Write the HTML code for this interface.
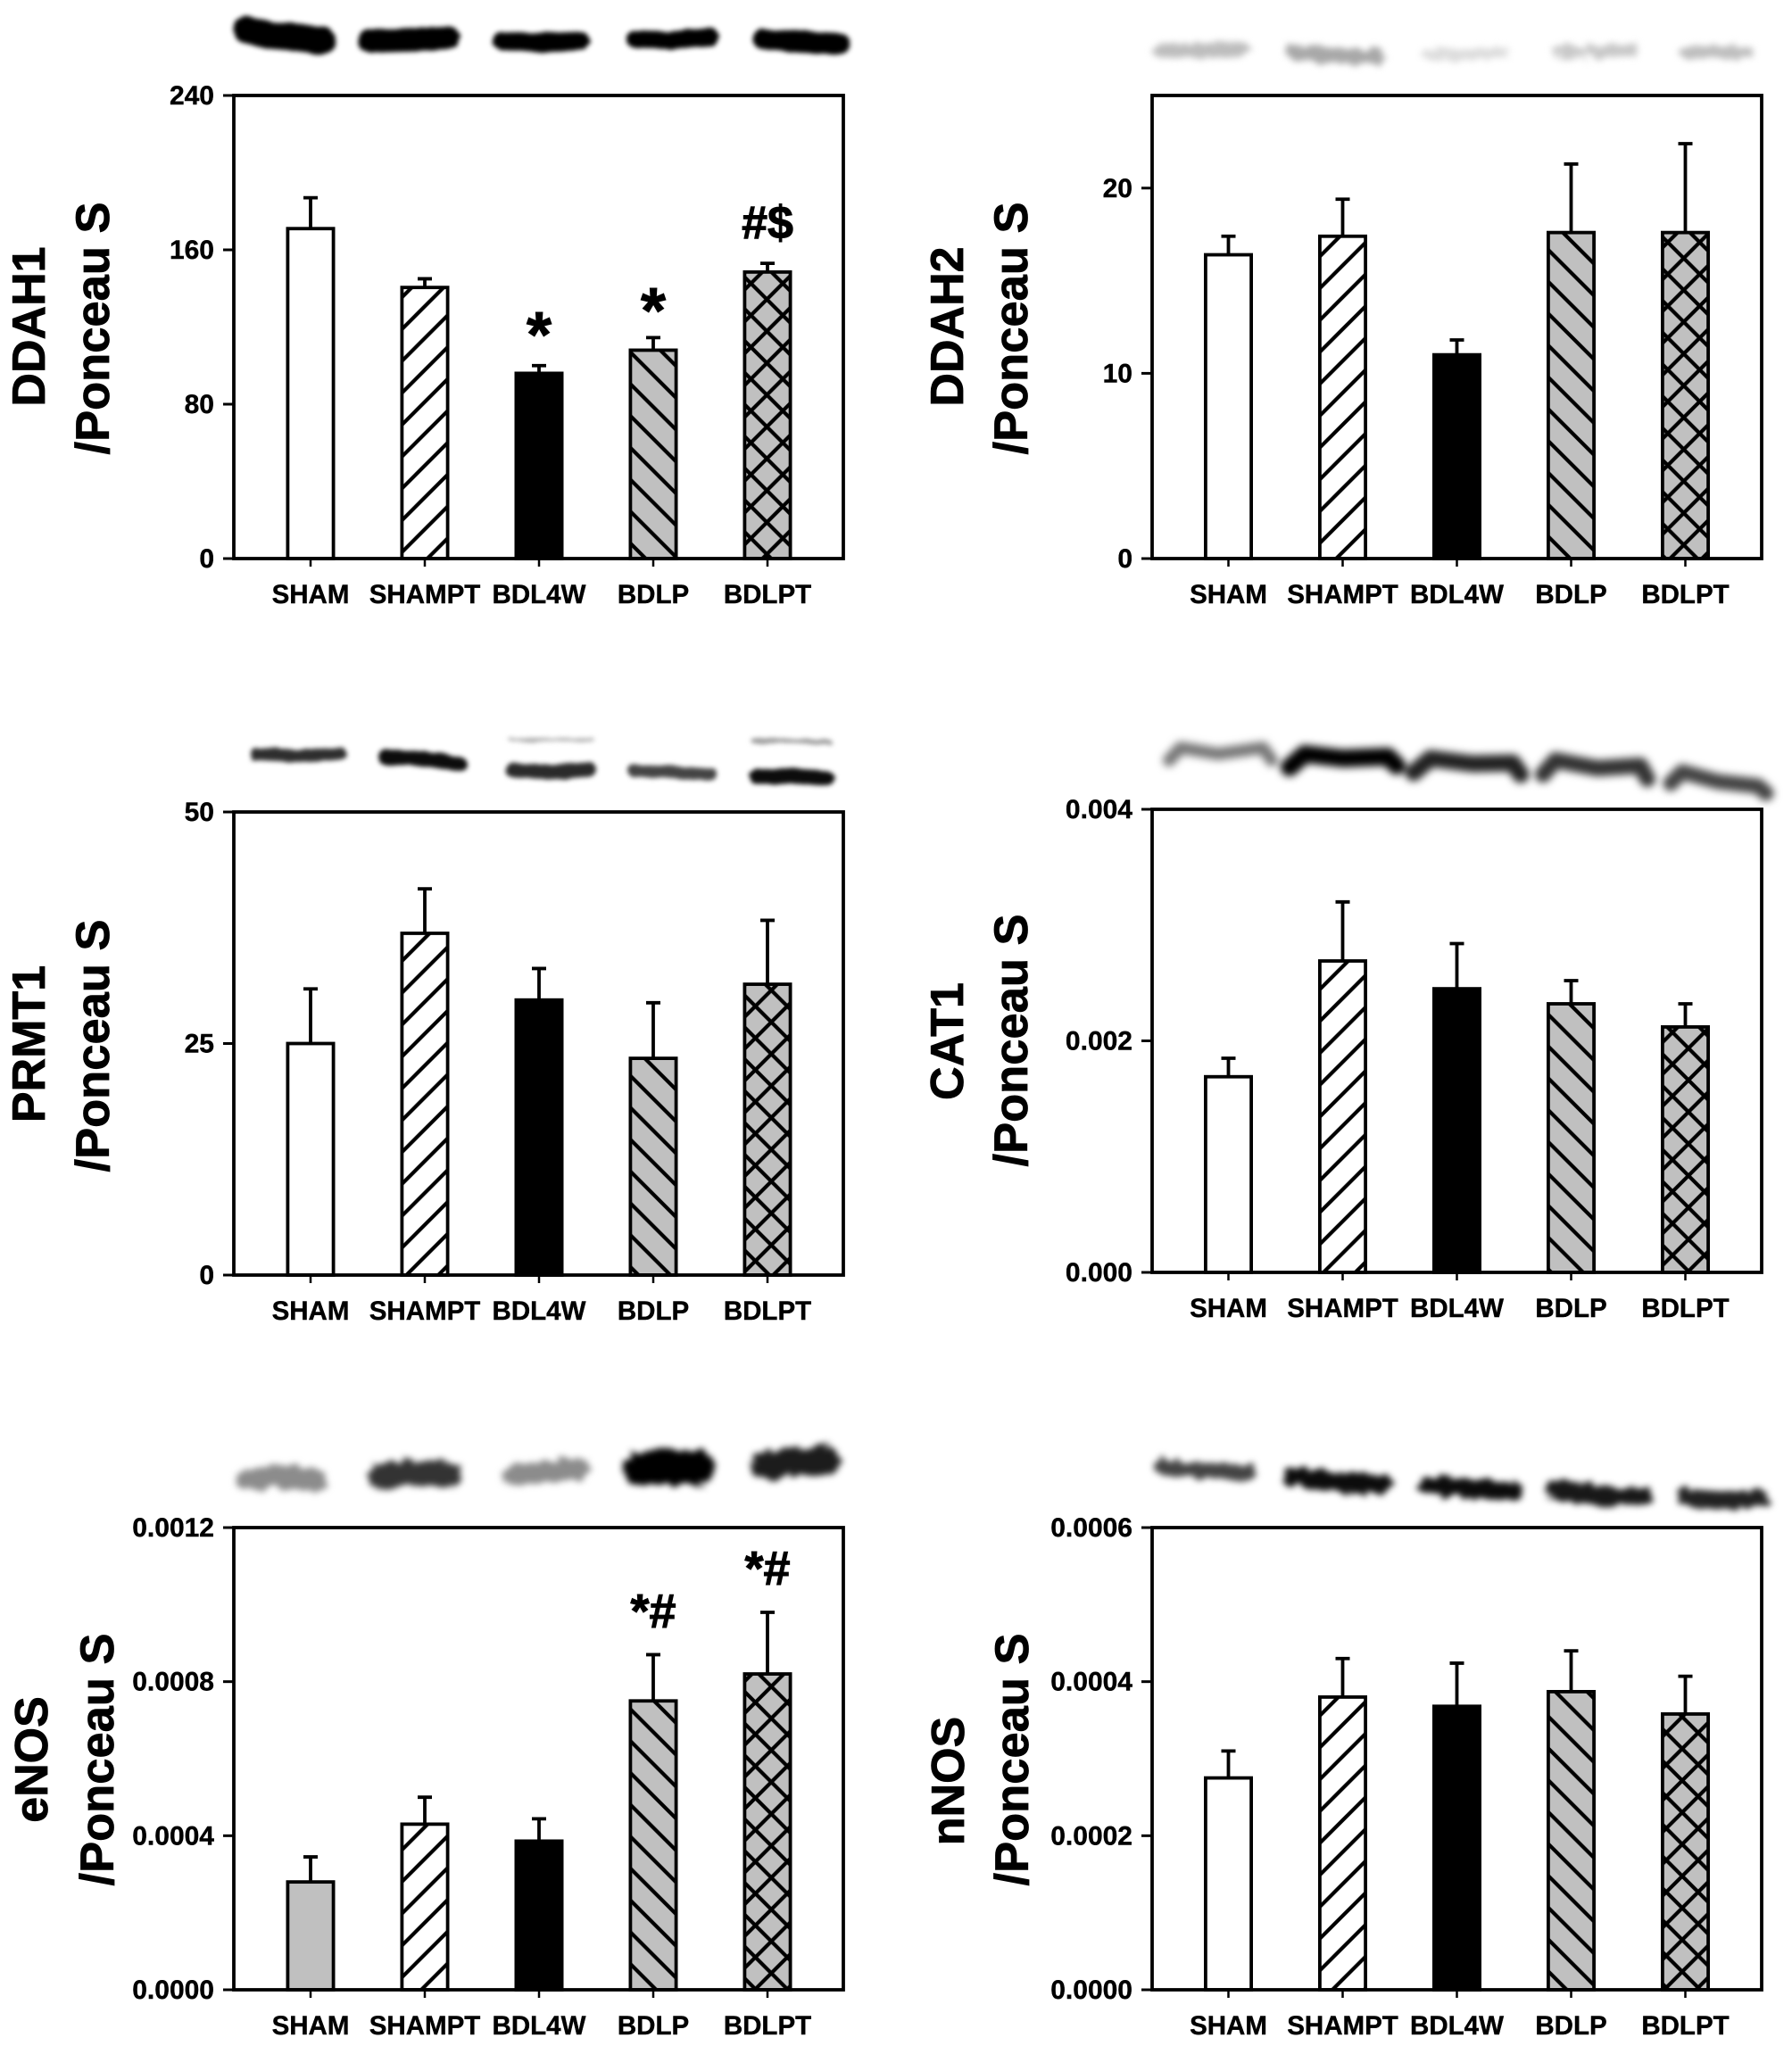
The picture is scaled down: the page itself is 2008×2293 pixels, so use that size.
<!DOCTYPE html>
<html lang="en">
<head>
<meta charset="utf-8">
<title>Protein expression bar charts</title>
<style>
html,body{margin:0;padding:0;background:#fff}
svg{display:block}
text{font-family:"Liberation Sans",Arial,sans-serif;font-weight:bold;fill:#000}
</style>
</head>
<body>
<svg id="figure" xmlns="http://www.w3.org/2000/svg" width="2008" height="2293" viewBox="0 0 2008 2293">
<defs>
<filter id="blot-sharp" filterUnits="userSpaceOnUse" x="0" y="0" width="2008" height="2293" color-interpolation-filters="sRGB">
  <feTurbulence type="fractalNoise" baseFrequency="0.05 0.1" numOctaves="2" seed="4" result="n"/>
  <feDisplacementMap in="SourceGraphic" in2="n" scale="5" xChannelSelector="R" yChannelSelector="G" result="d"/>
  <feGaussianBlur in="d" stdDeviation="2.6"/>
</filter>
<filter id="blot-fuzzy" filterUnits="userSpaceOnUse" x="0" y="0" width="2008" height="2293" color-interpolation-filters="sRGB">
  <feTurbulence type="fractalNoise" baseFrequency="0.08 0.14" numOctaves="2" seed="9" result="n"/>
  <feDisplacementMap in="SourceGraphic" in2="n" scale="14" xChannelSelector="R" yChannelSelector="G" result="d"/>
  <feGaussianBlur in="d" stdDeviation="3.6"/>
</filter>
<filter id="blot-soft" filterUnits="userSpaceOnUse" x="0" y="0" width="2008" height="2293" color-interpolation-filters="sRGB">
  <feGaussianBlur stdDeviation="4.6"/>
</filter>
</defs>
</svg>
<script>
var categories = ['SHAM', 'SHAMPT', 'BDL4W', 'BDLP', 'BDLPT'];

var ddah1Means = [171, 140.5, 96, 108, 148.5];
var ddah1Upper = [187, 145, 100, 114.5, 153];
var ddah1Ticks = ['0', '80', '160', '240'];
var ddah1TickValues = [0, 80, 160, 240];
var ddah1Marks = ['', '', '*', '*', '#$'];

var ddah2Means = [16.4, 17.4, 11, 17.6, 17.6];
var ddah2Upper = [17.4, 19.4, 11.8, 21.3, 22.4];
var ddah2Ticks = ['0', '10', '20'];
var ddah2TickValues = [0, 10, 20];
var ddah2Max = 25;

var prmt1Means = [25, 36.9, 29.7, 23.4, 31.4];
var prmt1Upper = [30.9, 41.7, 33.1, 29.4, 38.3];
var prmt1Ticks = ['0', '25', '50'];
var prmt1TickValues = [0, 25, 50];

var cat1Means = [0.00169, 0.00269, 0.00245, 0.00232, 0.00212];
var cat1Upper = [0.00185, 0.0032, 0.00284, 0.00252, 0.00232];
var cat1Ticks = ['0.000', '0.002', '0.004'];
var cat1TickValues = [0, 0.002, 0.004];

var enosMeans = [0.00028, 0.00043, 0.000386, 0.00075, 0.00082];
var enosUpper = [0.000345, 0.0005, 0.000444, 0.00087, 0.00098];
var enosTicks = ['0.0000', '0.0004', '0.0008', '0.0012'];
var enosTickValues = [0, 0.0004, 0.0008, 0.0012];
var enosMarks = ['', '', '', '*#', '*#'];

var nnosMeans = [0.000275, 0.00038, 0.000368, 0.000387, 0.000358];
var nnosUpper = [0.00031, 0.00043, 0.000424, 0.00044, 0.000407];
var nnosTicks = ['0.0000', '0.0002', '0.0004', '0.0006'];
var nnosTickValues = [0, 0.0002, 0.0004, 0.0006];

var svg = document.getElementById('figure');
var NS = 'http://www.w3.org/2000/svg';
var defs = svg.querySelector('defs');

function make(tag, attrs, parent) {
  var el = document.createElementNS(NS, tag);
  for (var k in attrs) { el.setAttribute(k, attrs[k]); }
  (parent || svg).appendChild(el);
  return el;
}

var panels = [
  { key: 'ddah1', title: 'DDAH1', means: ddah1Means, upper: ddah1Upper, ticks: ddah1Ticks, tickValues: ddah1TickValues, max: 240, marks: ddah1Marks,
    left: 262, center0: 348, top: 107, bottom: 626, titleX: 50, subX: 122, titleY: 366, subY: 368,
    fwd: [500, 355], back: [708, 432], cross: [859.3, 478.3], firstFill: '#ffffff', markY: [0, 0, 400, 373, 267], markSize: [0, 0, 72, 72, 52] },
  { key: 'ddah2', title: 'DDAH2', means: ddah2Means, upper: ddah2Upper, ticks: ddah2Ticks, tickValues: ddah2TickValues, max: ddah2Max, marks: null,
    left: 1291, center0: 1376.5, top: 107, bottom: 626, titleX: 1079, subX: 1151, titleY: 366, subY: 368,
    fwd: [1528.3, 595], back: [1736.7, 531.7], cross: [1886.7, 539.3], firstFill: '#ffffff' },
  { key: 'prmt1', title: 'PRMT1', means: prmt1Means, upper: prmt1Upper, ticks: prmt1Ticks, tickValues: prmt1TickValues, max: 50, marks: null,
    left: 262, center0: 348, top: 910, bottom: 1429, titleX: 50, subX: 122, titleY: 1170, subY: 1172,
    fwd: [500, 1313], back: [708.3, 1314.7], cross: [864.3, 1359.7], firstFill: '#ffffff' },
  { key: 'cat1', title: 'CAT1', means: cat1Means, upper: cat1Upper, ticks: cat1Ticks, tickValues: cat1TickValues, max: 0.004, marks: null,
    left: 1291, center0: 1376.5, top: 907, bottom: 1426, titleX: 1079, subX: 1151, titleY: 1167, subY: 1166,
    fwd: [1483, 1426], back: [1774, 1426], cross: [1892, 1389], firstFill: '#ffffff' },
  { key: 'enos', title: 'eNOS', means: enosMeans, upper: enosUpper, ticks: enosTicks, tickValues: enosTickValues, max: 0.0012, marks: enosMarks,
    left: 262, center0: 348, top: 1712, bottom: 2230, titleX: 53, subX: 127, titleY: 1972, subY: 1972,
    fwd: [500, 2130.7], back: [708.3, 2167.3], cross: [864.3, 2175.7], firstFill: '#c0c0c0', markY: [0, 0, 0, 1824, 1776], markSize: [0, 0, 0, 54, 54] },
  { key: 'nnos', title: 'nNOS', means: nnosMeans, upper: nnosUpper, ticks: nnosTicks, tickValues: nnosTickValues, max: 0.0006, marks: null,
    left: 1291, center0: 1376.5, top: 1712, bottom: 2230, titleX: 1080, subX: 1152, titleY: 1996, subY: 1972,
    fwd: [1528.3, 2159], back: [1736, 2139], cross: [1885, 2174], firstFill: '#ffffff' }
];

var HATCH = 35.7;
var FWD_LINES = 'M-9 9L9 -9M-9 ' + (HATCH + 9) + 'L' + (HATCH + 9) + ' -9M' + (HATCH - 9) + ' ' + (HATCH + 9) + 'L' + (HATCH + 9) + ' ' + (HATCH - 9);
var BACK_LINES = 'M-9 ' + (HATCH - 9) + 'L9 ' + (HATCH + 9) + 'M-9 -9L' + (HATCH + 9) + ' ' + (HATCH + 9) + 'M' + (HATCH - 9) + ' -9L' + (HATCH + 9) + ' 9';

function addPattern(id, anchor, bg, lines) {
  var pat = make('pattern', { id: id, patternUnits: 'userSpaceOnUse', width: HATCH, height: HATCH, patternTransform: 'translate(' + anchor[0] + ' ' + anchor[1] + ')' }, defs);
  make('rect', { width: HATCH, height: HATCH, fill: bg }, pat);
  make('path', { d: lines, stroke: '#000', 'stroke-width': 4.2, fill: 'none' }, pat);
}

function drawPanel(p) {
  addPattern(p.key + '-fwd', p.fwd, '#fff', FWD_LINES);
  addPattern(p.key + '-back', p.back, '#c0c0c0', BACK_LINES);
  addPattern(p.key + '-cross', p.cross, '#c0c0c0', FWD_LINES + BACK_LINES);

  var width = 683;
  var g = make('g', {});
  
  

  function yScale(v) { return p.bottom - (v / p.max) * (p.bottom - p.top); }
  function xScale(i) { return p.center0 + i * 128; }

  var fills = [p.firstFill, 'url(#' + p.key + '-fwd)', '#000000', 'url(#' + p.key + '-back)', 'url(#' + p.key + '-cross)'];

  p.means.forEach(function (m, i) {
    var cx = xScale(i);
    var top = yScale(m);
    var errTop = yScale(p.upper[i]);

    var err = make('path', { d: 'M' + cx + ' ' + top + 'V' + errTop + 'M' + (cx - 8) + ' ' + errTop + 'H' + (cx + 8), stroke: '#000', 'stroke-width': 3.8, fill: 'none' }, g);
    
    

    var bar = make('rect', { x: cx - 25.6, y: top, width: 51.2, height: p.bottom - top, fill: fills[i], stroke: '#000', 'stroke-width': 3.8 }, g);
    
    

    var tick = make('line', { x1: cx, x2: cx, y1: p.bottom, y2: p.bottom + 9, stroke: '#000', 'stroke-width': 2.5 }, g);
    
    

    var label = make('text', { x: cx, y: p.bottom + 50, 'text-anchor': 'middle', 'font-size': 29.5, stroke: '#000', 'stroke-width': 0.4 }, g);
    label.textContent = categories[i];
    
    

    if (p.marks && p.marks[i]) {
      var mark = make('text', { x: cx, y: p.markY[i], 'text-anchor': 'middle', 'font-size': p.markSize[i], stroke: '#000', 'stroke-width': 1 }, g);
      mark.textContent = p.marks[i];
      
      
    }
  });

  var frame = make('rect', { x: p.left, y: p.top, width: width, height: p.bottom - p.top, fill: 'none', stroke: '#000', 'stroke-width': 3.8 }, g);
  
  

  p.tickValues.forEach(function (v, i) {
    var y = yScale(v);
    var tick = make('line', { x1: p.left - 12, x2: p.left, y1: y, y2: y, stroke: '#000', 'stroke-width': 3 }, g);
    
    
    var label = make('text', { x: p.left - 22, y: y + 10, 'text-anchor': 'end', 'font-size': 30, stroke: '#000', 'stroke-width': 0.4 }, g);
    label.textContent = p.ticks[i];
    
    
  });

  var title = make('text', { x: 0, y: 0, transform: 'translate(' + p.titleX + ' ' + p.titleY + ') rotate(-90)', 'text-anchor': 'middle', 'font-size': 52, stroke: '#000', 'stroke-width': 0.8 }, g);
  title.textContent = p.title;
  
  

  var sub = make('text', { x: 0, y: 0, transform: 'translate(' + p.subX + ' ' + p.subY + ') rotate(-90)', 'text-anchor': 'middle', 'font-size': 52.5, stroke: '#000', 'stroke-width': 0.8 }, g);
  sub.textContent = '/Ponceau S';
  
  
}

panels.forEach(drawPanel);

var blots = [
  { name: 'ddah1', filter: 'blot-sharp', bands: [
    { w: 31, c: '#000', pts: [277, 33, 305, 40, 340, 42, 361, 46] },
    { w: 26, c: '#000', pts: [414, 46, 455, 45, 503, 43] },
    { w: 21, c: '#000', pts: [563, 45, 600, 48, 650, 46] },
    { w: 20, c: '#000', pts: [712, 44, 750, 45, 796, 41] },
    { w: 24, c: '#000', pts: [855, 44, 895, 47, 941, 49] }
  ] },
  { name: 'ddah2', filter: 'blot-fuzzy', bands: [
    { w: 16, c: '#bdbdbd', pts: [1301, 57, 1345, 57, 1391, 56] },
    { w: 17, c: '#a8a8a8', pts: [1449, 59, 1495, 62, 1543, 63] },
    { w: 12, c: '#dcdcdc', pts: [1600, 60, 1645, 61, 1686, 58] },
    { w: 13, c: '#c8c8c8', pts: [1746, 57, 1790, 58, 1830, 56] },
    { w: 13, c: '#bebebe', pts: [1888, 58, 1925, 59, 1960, 58] }
  ] },
  { name: 'prmt1', filter: 'blot-sharp', bands: [
    { w: 14, c: '#2e2e2e', pts: [287, 845, 335, 847, 381, 845] },
    { w: 17, c: '#0c0c0c', pts: [433, 849, 475, 850, 515, 857] },
    { w: 17, c: '#2a2a2a', pts: [576, 863, 620, 865, 659, 862] },
    { w: 13, c: '#444', pts: [710, 864, 755, 865, 797, 868] },
    { w: 17, c: '#0c0c0c', pts: [848, 870, 890, 870, 927, 872] },
    { w: 4, c: '#aaa', pts: [572, 829, 620, 829, 664, 829] },
    { w: 5, c: '#999', pts: [844, 830, 890, 830, 930, 832] }
  ] },
  { name: 'cat1', filter: 'blot-soft', bands: [
    { w: 14, c: '#777', pts: [1310, 852, 1323, 838, 1365, 845, 1415, 838, 1425, 852] },
    { w: 20, c: '#000', pts: [1445, 860, 1462, 845, 1505, 850, 1555, 848, 1565, 858] },
    { w: 19, c: '#222', pts: [1584, 866, 1603, 850, 1650, 856, 1695, 855, 1704, 868] },
    { w: 18, c: '#333', pts: [1729, 868, 1743, 852, 1790, 861, 1838, 858, 1846, 873] },
    { w: 17, c: '#444', pts: [1872, 878, 1885, 865, 1925, 876, 1970, 881, 1979, 889] }
  ] },
  { name: 'enos', filter: 'blot-fuzzy', bands: [
    { w: 26, c: '#8c8c8c', pts: [280, 1658, 315, 1654, 352, 1658] },
    { w: 29, c: '#333', pts: [428, 1654, 465, 1650, 503, 1653] },
    { w: 24, c: '#8c8c8c', pts: [575, 1653, 610, 1649, 648, 1646] },
    { w: 38, c: '#000', pts: [718, 1646, 750, 1644, 782, 1645] },
    { w: 31, c: '#1c1c1c', pts: [858, 1643, 890, 1638, 926, 1636] }
  ] },
  { name: 'nnos', filter: 'blot-fuzzy', bands: [
    { w: 18, c: '#444', pts: [1302, 1644, 1350, 1648, 1399, 1650] },
    { w: 21, c: '#0c0c0c', pts: [1450, 1655, 1500, 1661, 1551, 1663] },
    { w: 21, c: '#0c0c0c', pts: [1600, 1665, 1650, 1669, 1695, 1671] },
    { w: 21, c: '#181818', pts: [1742, 1669, 1790, 1676, 1841, 1677] },
    { w: 19, c: '#222', pts: [1888, 1677, 1930, 1681, 1973, 1680] }
  ] }
];

blots.forEach(function (b) {
  var g = make('g', { filter: 'url(#' + b.filter + ')' });
  
  
  b.bands.forEach(function (r) {
    var d = '';
    for (var i = 0; i < r.pts.length; i += 2) {
      d += (i === 0 ? 'M' : 'L') + r.pts[i] + ' ' + r.pts[i + 1];
    }
    var band = make('path', { d: d, stroke: r.c, 'stroke-width': r.w, 'stroke-linecap': 'round', 'stroke-linejoin': 'round', fill: 'none' }, g);
    
    
  });
});
</script>
</body>
</html>
